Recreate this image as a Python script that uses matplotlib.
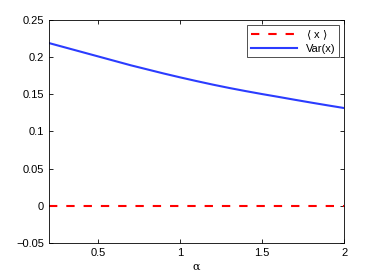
import matplotlib

matplotlib.use("Agg")
import matplotlib.pyplot as plt
from matplotlib.ticker import FuncFormatter

# values
alpha = [0.2, 0.3, 0.4, 0.5, 0.6, 0.7, 0.8, 0.9, 1.0, 1.1,
         1.2, 1.3, 1.4, 1.5, 1.6, 1.7, 1.8, 1.9, 2.0]
mean_x = [0.0] * len(alpha)
var_x = [0.219, 0.213, 0.207, 0.201, 0.195, 0.189, 0.1835, 0.178, 0.1728, 0.1678,
         0.163, 0.1585, 0.1543, 0.1503, 0.1465, 0.1426, 0.1388, 0.1351, 0.1315]
x_ticks = [0.5, 1, 1.5, 2]
y_ticks = [-0.05, 0, 0.05, 0.1, 0.15, 0.2, 0.25]

plt.rcParams["font.family"] = ["Liberation Sans", "DejaVu Sans"]
plt.rcParams["font.size"] = 8

fig = plt.figure(figsize=(3.79, 2.76), dpi=100)
ax = fig.add_axes([0.129, 0.12, 0.779, 0.8075])

ax.plot(alpha, mean_x, color="#ff0000", linestyle="--", linewidth=1.5, dashes=(4, 4.3), label=r"$\langle$ x $\rangle$")
ax.plot(alpha, var_x, color="#2b3cff", linewidth=1.5, label="Var(x)")

ax.set_xlim(0.2, 2)
ax.set_ylim(-0.05, 0.25)
ax.set_xticks(x_ticks)
ax.set_yticks(y_ticks)


def fmt(v, pos):
    return f"{v:g}".replace("-", "\u2212")


ax.xaxis.set_major_formatter(FuncFormatter(fmt))
ax.yaxis.set_major_formatter(FuncFormatter(fmt))
ax.tick_params(direction="in", top=True, right=True, length=3, width=0.6, labelsize=8)
for spine in ax.spines.values():
    spine.set_linewidth(0.6)

ax.set_xlabel("α", family="DejaVu Serif", fontsize=8, labelpad=3)

leg = ax.legend(loc="upper right", fontsize=8, frameon=True, fancybox=False,
                edgecolor="black", handlelength=4.2, borderaxespad=0.45,
                borderpad=0.3, labelspacing=0.2)
leg.get_frame().set_linewidth(0.6)

fig.savefig("out.png", dpi=100)
